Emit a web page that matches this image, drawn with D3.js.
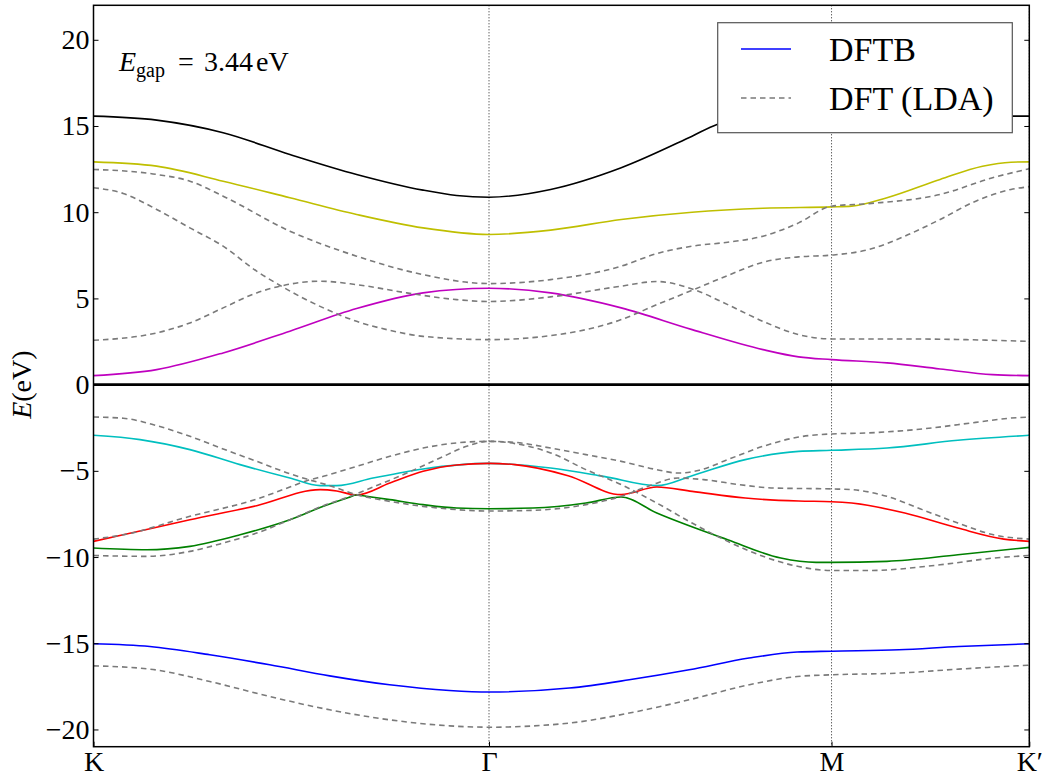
<!DOCTYPE html>
<html>
<head>
<meta charset="utf-8">
<script src="https://cdn.jsdelivr.net/npm/d3@7"></script>
<style>
  body { margin: 0; background: #fff; }
  svg { display: block; }
  text { font-family: "Liberation Serif", "DejaVu Serif", serif; fill: #000; }
</style>
</head>
<body>
<svg id="chart" width="1044" height="776"></svg>
<script>
// High-symmetry path K – Γ – M – K' (distance along the path in the hexagonal Brillouin zone)
const symLabels = ["K", "Γ", "M", "K\u2032"];
const symPoints = [0, 1.3333, 2.4880, 3.1547];
const yTicks = [-20, -15, -10, -5, 0, 5, 10, 15, 20];
const gapValue = 3.44;

// DFTB bands: [k, E (eV)]
const dftbBlack = [[0,15.57],[0.213,15.34],[0.437,14.61],[0.662,13.35],[0.887,12.19],[1.111,11.28],[1.224,10.97],[1.333,10.87],[1.541,11.32],[1.779,12.58],[2.018,14.41],[2.102,15.09],[2.2,15.42],[2.35,15.55],[2.488,15.57],[3.155,15.57]];
const dftbYellow = [[0,12.92],[0.213,12.67],[0.437,11.80],[0.662,10.84],[0.887,9.87],[1.111,9.09],[1.333,8.71],[1.541,8.96],[1.779,9.58],[2.018,10.00],[2.257,10.23],[2.488,10.31],[2.556,10.35],[2.675,10.84],[2.854,11.90],[2.997,12.67],[3.093,12.90],[3.155,12.92]];
const dftbMagenta = [[0,0.52],[0.213,0.87],[0.437,1.84],[0.662,3.10],[0.887,4.41],[1.111,5.32],[1.333,5.59],[1.541,5.32],[1.779,4.45],[2.018,3.19],[2.257,2.03],[2.377,1.61],[2.488,1.45],[2.675,1.26],[2.854,0.91],[3.031,0.58],[3.155,0.52]];
const dftbCyan = [[0,-2.94],[0.157,-3.19],[0.325,-3.77],[0.494,-4.64],[0.662,-5.42],[0.764,-5.86],[0.820,-5.86],[0.942,-5.42],[1.111,-4.89],[1.333,-4.57],[1.541,-4.84],[1.720,-5.32],[1.899,-5.86],[2.018,-5.28],[2.197,-4.35],[2.377,-3.87],[2.488,-3.81],[2.675,-3.68],[2.914,-3.23],[3.155,-2.94]];
const dftbRed = [[0,-9.09],[0.100,-8.71],[0.325,-7.84],[0.550,-7.02],[0.764,-6.09],[0.820,-6.17],[0.887,-6.40],[0.999,-5.71],[1.111,-5.03],[1.224,-4.66],[1.333,-4.57],[1.421,-4.64],[1.600,-5.28],[1.779,-6.38],[1.899,-5.94],[2.018,-6.19],[2.197,-6.58],[2.377,-6.75],[2.488,-6.79],[2.556,-6.87],[2.735,-7.45],[2.914,-8.32],[3.069,-8.96],[3.155,-9.09]];
const dftbGreen = [[0,-9.48],[0.179,-9.58],[0.325,-9.38],[0.494,-8.71],[0.662,-7.84],[0.775,-7.06],[0.860,-6.55],[0.887,-6.40],[0.920,-6.48],[0.999,-6.67],[1.111,-6.96],[1.224,-7.16],[1.333,-7.20],[1.481,-7.16],[1.660,-6.87],[1.779,-6.52],[1.899,-7.45],[2.138,-9.0],[2.317,-10.06],[2.436,-10.31],[2.488,-10.31],[2.675,-10.25],[2.914,-9.87],[3.155,-9.44]];
const dftbBlue = [[0,-15.03],[0.190,-15.19],[0.392,-15.67],[0.594,-16.25],[0.796,-16.89],[0.998,-17.41],[1.200,-17.74],[1.333,-17.83],[1.604,-17.60],[1.806,-17.12],[2.008,-16.54],[2.210,-15.86],[2.372,-15.51],[2.488,-15.46],[2.715,-15.38],[2.917,-15.19],[3.155,-15.03]];

// DFT (LDA) bands: [k, E (eV)]
const dftC1 = [[0,12.48],[0.213,12.19],[0.325,11.80],[0.437,10.93],[0.662,8.90],[0.887,7.45],[1.111,6.38],[1.333,5.86],[1.541,6.09],[1.779,6.87],[1.899,7.60],[2.018,8.03],[2.138,8.26],[2.257,8.61],[2.377,9.38],[2.488,10.35],[2.615,10.50],[2.854,11.03],[3.031,12.0],[3.155,12.52]];
const dftC2 = [[0,11.42],[0.100,11.09],[0.213,10.16],[0.325,9.09],[0.437,8.03],[0.550,6.58],[0.629,5.75],[0.775,4.45],[0.887,3.67],[0.999,3.15],[1.111,2.80],[1.333,2.61],[1.541,2.84],[1.779,3.77],[1.899,4.64],[2.018,5.47],[2.138,6.33],[2.257,7.10],[2.377,7.41],[2.488,7.51],[2.615,7.84],[2.735,8.61],[2.854,9.58],[2.974,10.64],[3.093,11.32],[3.155,11.48]];
const dftC3 = [[0,2.57],[0.213,3.00],[0.325,3.58],[0.437,4.45],[0.550,5.32],[0.629,5.71],[0.764,6.00],[0.887,5.80],[1.056,5.32],[1.224,4.93],[1.333,4.82],[1.541,5.09],[1.779,5.71],[1.899,5.98],[2.018,5.55],[2.138,4.64],[2.257,3.67],[2.377,2.90],[2.488,2.65],[2.735,2.65],[3.155,2.51]];
const dftV1 = [[0,-1.88],[0.100,-1.95],[0.213,-2.38],[0.325,-3.00],[0.437,-3.73],[0.550,-4.45],[0.662,-5.17],[0.719,-5.48],[0.797,-5.86],[0.887,-6.38],[0.999,-6.77],[1.111,-7.06],[1.224,-7.25],[1.333,-7.33],[1.481,-7.29],[1.660,-6.96],[1.779,-6.48],[1.875,-5.86],[1.970,-5.42],[2.057,-5.51],[2.177,-5.80],[2.296,-6.00],[2.488,-6.05],[2.556,-6.09],[2.675,-6.48],[2.794,-7.25],[2.914,-8.03],[3.034,-8.71],[3.155,-8.96]];
const dftV2 = [[0,-8.96],[0.100,-8.71],[0.325,-7.64],[0.550,-6.64],[0.662,-5.94],[0.719,-5.57],[0.775,-5.32],[0.887,-4.74],[0.999,-4.16],[1.111,-3.68],[1.224,-3.38],[1.333,-3.29],[1.421,-3.35],[1.541,-3.68],[1.660,-4.06],[1.779,-4.45],[1.899,-4.93],[1.970,-5.13],[2.042,-4.97],[2.138,-4.35],[2.257,-3.58],[2.377,-3.04],[2.488,-2.86],[2.615,-2.80],[2.794,-2.57],[2.974,-2.19],[3.093,-1.94],[3.155,-1.88]];
const dftV3 = [[0,-9.91],[0.179,-9.96],[0.325,-9.67],[0.437,-9.19],[0.550,-8.61],[0.662,-7.84],[0.775,-7.02],[0.865,-6.48],[0.943,-5.94],[1.056,-5.13],[1.168,-4.26],[1.258,-3.58],[1.333,-3.29],[1.421,-3.42],[1.541,-3.96],[1.660,-4.93],[1.779,-5.80],[1.899,-6.87],[2.018,-8.03],[2.138,-9.09],[2.257,-9.96],[2.377,-10.55],[2.488,-10.78],[2.615,-10.78],[2.854,-10.45],[3.034,-10.06],[3.155,-9.91]];
const dftDeep = [[0,-16.31],[0.190,-16.50],[0.392,-17.22],[0.594,-18.09],[0.796,-18.86],[0.998,-19.44],[1.200,-19.79],[1.333,-19.87],[1.604,-19.63],[1.806,-19.05],[2.008,-18.28],[2.210,-17.41],[2.372,-16.93],[2.488,-16.83],[2.715,-16.73],[2.917,-16.50],[3.155,-16.27]];

(function () {
  const serif = '"Liberation Serif", "DejaVu Serif", serif';
  const dftbBands = [
    { data: dftbBlack, color: "#000000" },
    { data: dftbYellow, color: "#bfbf00" },
    { data: dftbMagenta, color: "#bf00bf" },
    { data: dftbCyan, color: "#00bfbf" },
    { data: dftbRed, color: "#ff0000" },
    { data: dftbGreen, color: "#008000" },
    { data: dftbBlue, color: "#0000ff" }
  ];
  const dftBands = [dftC1, dftC2, dftC3, dftV1, dftV2, dftV3, dftDeep];

  const svg = d3.select("#chart");
  const pL = 93.5, pR = 1029.3, pT = 5.3, pB = 746.7;

  const x = d3.scaleLinear().domain([0, 3.1547]).range([pL, pR]);
  const y = d3.scaleLinear().domain([-21, 22]).range([pB, pT]);

  const fmt = d => d < 0 ? "\u2212" + Math.abs(d) : String(d);

  // clip for plot contents
  svg.append("defs").append("clipPath").attr("id", "plotClip")
    .append("rect").attr("x", pL).attr("y", pT)
    .attr("width", pR - pL).attr("height", pB - pT);

  const plot = svg.append("g").attr("clip-path", "url(#plotClip)");

  // vertical dotted lines at the high-symmetry points
  plot.selectAll("line.sym").data(symPoints).join("line")
    .attr("class", "sym")
    .attr("x1", d => x(d)).attr("x2", d => x(d))
    .attr("y1", pT).attr("y2", pB)
    .attr("stroke", "#222").attr("stroke-width", 1)
    .attr("stroke-dasharray", "1,2");

  const line = d3.line()
    .x(d => x(d[0])).y(d => y(d[1]))
    .curve(d3.curveMonotoneX);

  // DFTB bands (solid)
  plot.selectAll("path.dftb").data(dftbBands).join("path")
    .attr("class", "dftb")
    .attr("d", d => line(d.data))
    .attr("fill", "none")
    .attr("stroke", d => d.color)
    .attr("stroke-width", 1.6);

  // DFT (LDA) bands (dashed)
  plot.selectAll("path.dft").data(dftBands).join("path")
    .attr("class", "dft")
    .attr("d", d => line(d))
    .attr("fill", "none")
    .attr("stroke", "#7a7a7a")
    .attr("stroke-width", 1.6)
    .attr("stroke-dasharray", "5.5,4");

  // zero energy line
  plot.append("line")
    .attr("x1", pL).attr("x2", pR)
    .attr("y1", y(0)).attr("y2", y(0))
    .attr("stroke", "#000").attr("stroke-width", 2.6);

  // axes
  const yAxisL = d3.axisLeft(y).tickValues(yTicks).tickFormat(fmt)
    .tickSizeInner(-5).tickSizeOuter(0).tickPadding(4);
  const gL = svg.append("g").attr("transform", `translate(${pL},0)`).call(yAxisL)
    .attr("font-family", serif).attr("font-size", 28);
  gL.select(".domain").remove();

  const yAxisR = d3.axisRight(y).tickValues(yTicks).tickFormat("")
    .tickSizeInner(-5).tickSizeOuter(0);
  const gR = svg.append("g").attr("transform", `translate(${pR},0)`).call(yAxisR);
  gR.select(".domain").remove();

  const xAxis = d3.axisBottom(x).tickValues(symPoints).tickFormat((d, i) => symLabels[i])
    .tickSizeInner(-5).tickSizeOuter(0).tickPadding(4);
  const gX = svg.append("g").attr("transform", `translate(0,${pB})`).call(xAxis)
    .attr("font-family", serif).attr("font-size", 28);
  gX.select(".domain").remove();

  svg.selectAll(".tick line").attr("stroke", "#000").attr("stroke-width", 1);

  // frame
  svg.append("rect")
    .attr("x", pL).attr("y", pT)
    .attr("width", pR - pL).attr("height", pB - pT)
    .attr("fill", "none").attr("stroke", "#000").attr("stroke-width", 1.5);

  // y label
  const yl = svg.append("text")
    .attr("transform", `translate(31,${y(0)}) rotate(-90)`)
    .attr("text-anchor", "middle")
    .attr("font-size", 28);
  yl.append("tspan").attr("font-style", "italic").text("E");
  yl.append("tspan").text("(eV)");

  // band gap annotation
  const gt = svg.append("text").attr("x", 119).attr("y", 71).attr("font-size", 28);
  gt.append("tspan").attr("font-style", "italic").text("E");
  gt.append("tspan").attr("font-size", 20).attr("dy", 6).text("gap");
  gt.append("tspan").attr("x", 178).attr("dy", -6).text("=");
  gt.append("tspan").attr("x", 204).text(gapValue.toFixed(2));
  gt.append("tspan").attr("x", 256).text("eV");

  // legend
  const lg = svg.append("g");
  lg.append("rect")
    .attr("x", 717.7).attr("y", 22.7).attr("width", 294.6).attr("height", 110)
    .attr("fill", "#fff").attr("stroke", "#555").attr("stroke-width", 1.2);
  const legendItems = [
    { label: "DFTB", color: "#0000ff", dash: null, yy: 49 },
    { label: "DFT (LDA)", color: "#7a7a7a", dash: "5.5,4", yy: 98 }
  ];
  legendItems.forEach(it => {
    lg.append("line")
      .attr("x1", 741).attr("x2", 791).attr("y1", it.yy).attr("y2", it.yy)
      .attr("stroke", it.color).attr("stroke-width", 1.6)
      .attr("stroke-dasharray", it.dash);
    lg.append("text").attr("x", 829).attr("y", it.yy + 12)
      .attr("font-size", 34).text(it.label);
  });
})();
</script>
</body>
</html>
